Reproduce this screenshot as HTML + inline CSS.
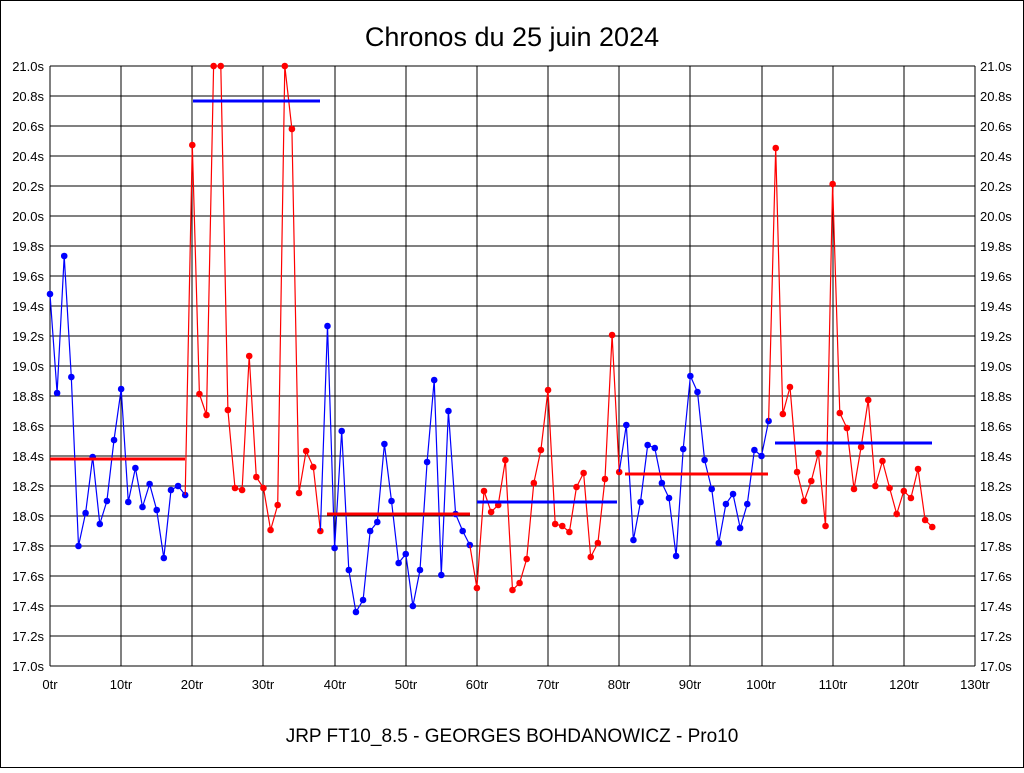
<!DOCTYPE html>
<html><head><meta charset="utf-8"><style>
body{margin:0;background:#fff;}
svg text{font-family:"Liberation Sans",sans-serif;}
</style></head><body>
<svg id="s" width="1024" height="768" xmlns="http://www.w3.org/2000/svg">
<rect x="0.5" y="0.5" width="1023" height="767" fill="#fff" stroke="#000"/>
<text x="512" y="46" font-size="27" text-anchor="middle">Chronos du 25 juin 2024</text>
<text x="512" y="742" font-size="19" text-anchor="middle">JRP FT10_8.5 - GEORGES BOHDANOWICZ - Pro10</text>
<g id="grid" stroke="#000" stroke-width="1" shape-rendering="crispEdges"></g>
<g font-size="13" id="lbl">
<text x="44" y="71" text-anchor="end">21.0s</text><text x="980" y="71">21.0s</text>
<text x="44" y="101" text-anchor="end">20.8s</text><text x="980" y="101">20.8s</text>
<text x="44" y="131" text-anchor="end">20.6s</text><text x="980" y="131">20.6s</text>
<text x="44" y="161" text-anchor="end">20.4s</text><text x="980" y="161">20.4s</text>
<text x="44" y="191" text-anchor="end">20.2s</text><text x="980" y="191">20.2s</text>
<text x="44" y="221" text-anchor="end">20.0s</text><text x="980" y="221">20.0s</text>
<text x="44" y="251" text-anchor="end">19.8s</text><text x="980" y="251">19.8s</text>
<text x="44" y="281" text-anchor="end">19.6s</text><text x="980" y="281">19.6s</text>
<text x="44" y="311" text-anchor="end">19.4s</text><text x="980" y="311">19.4s</text>
<text x="44" y="341" text-anchor="end">19.2s</text><text x="980" y="341">19.2s</text>
<text x="44" y="371" text-anchor="end">19.0s</text><text x="980" y="371">19.0s</text>
<text x="44" y="401" text-anchor="end">18.8s</text><text x="980" y="401">18.8s</text>
<text x="44" y="431" text-anchor="end">18.6s</text><text x="980" y="431">18.6s</text>
<text x="44" y="461" text-anchor="end">18.4s</text><text x="980" y="461">18.4s</text>
<text x="44" y="491" text-anchor="end">18.2s</text><text x="980" y="491">18.2s</text>
<text x="44" y="521" text-anchor="end">18.0s</text><text x="980" y="521">18.0s</text>
<text x="44" y="551" text-anchor="end">17.8s</text><text x="980" y="551">17.8s</text>
<text x="44" y="581" text-anchor="end">17.6s</text><text x="980" y="581">17.6s</text>
<text x="44" y="611" text-anchor="end">17.4s</text><text x="980" y="611">17.4s</text>
<text x="44" y="641" text-anchor="end">17.2s</text><text x="980" y="641">17.2s</text>
<text x="44" y="671" text-anchor="end">17.0s</text><text x="980" y="671">17.0s</text>
<g text-anchor="middle">
<text x="50" y="689">0tr</text><text x="121" y="689">10tr</text><text x="192" y="689">20tr</text><text x="263" y="689">30tr</text><text x="335" y="689">40tr</text><text x="406" y="689">50tr</text><text x="477" y="689">60tr</text><text x="548" y="689">70tr</text><text x="619" y="689">80tr</text><text x="690" y="689">90tr</text><text x="761" y="689">100tr</text><text x="833" y="689">110tr</text><text x="904" y="689">120tr</text><text x="975" y="689">130tr</text>
</g></g>
<g id="data"></g>
</svg>
<script>
var NS="http://www.w3.org/2000/svg";
function el(p,t,a){var e=document.createElementNS(NS,t);for(var k in a)e.setAttribute(k,a[k]);p.appendChild(e);return e;}
var g=document.getElementById('grid');
for(var k=0;k<=13;k++){var x=Math.round(50+71.15*k);el(g,'line',{x1:x,x2:x,y1:66,y2:666});}
for(var k=0;k<=20;k++){var y=66+30*k;el(g,'line',{x1:50,x2:975,y1:y,y2:y});}
var segs=[
{c:'#0000ff',s:0,y:[294,393,256,377,546,513,457,524,501,440,389,502,468,507,484,510,558,490,486,495],a:{y:459,x1:50,x2:185,c:'#ff0000'}},
{c:'#ff0000',s:20,y:[145,394,415,66,66,410,488,490,356,477,488,530,505,66,129,493,451,467,531],a:{y:101,x1:193,x2:320,c:'#0000ff'}},
{c:'#0000ff',s:39,y:[326,548,431,570,612,600,531,522,444,501,563,554,606,570,462,380,575,411,514,531,545],a:{y:514,x1:327,x2:470,c:'#ff0000'}},
{c:'#ff0000',s:60,y:[588,491,512,505,460,590,583,559,483,450,390,524,526,532,487,473,557,543,479,335,472],a:{y:502,x1:477,x2:617,c:'#0000ff'}},
{c:'#0000ff',s:81,y:[425,540,502,445,448,483,498,556,449,376,392,460,489,543,504,494,528,504,450,456,421],a:{y:474,x1:625,x2:768,c:'#ff0000'}},
{c:'#ff0000',s:102,y:[148,414,387,472,501,481,453,526,184,413,428,489,447,400,486,461,488,514,491,498,469,520,527],a:{y:443,x1:775,x2:932,c:'#0000ff'}}
];
var d=document.getElementById('data');var prev=null;
segs.forEach(function(sg){
 var pts=[];if(prev)pts.push(prev);
 sg.y.forEach(function(y,j){pts.push([50+7.115*(sg.s+j),y]);});
 el(d,'polyline',{points:pts.map(function(p){return p[0].toFixed(1)+','+p[1];}).join(' '),fill:'none',stroke:sg.c,'stroke-width':1.2});
 prev=pts[pts.length-1];
 sg.y.forEach(function(y,j){el(d,'circle',{cx:50+7.115*(sg.s+j),cy:y,r:3.3,fill:sg.c});});
});
segs.forEach(function(sg){el(d,'line',{x1:sg.a.x1,x2:sg.a.x2,y1:sg.a.y,y2:sg.a.y,stroke:sg.a.c,'stroke-width':3});});
</script>
</body></html>
